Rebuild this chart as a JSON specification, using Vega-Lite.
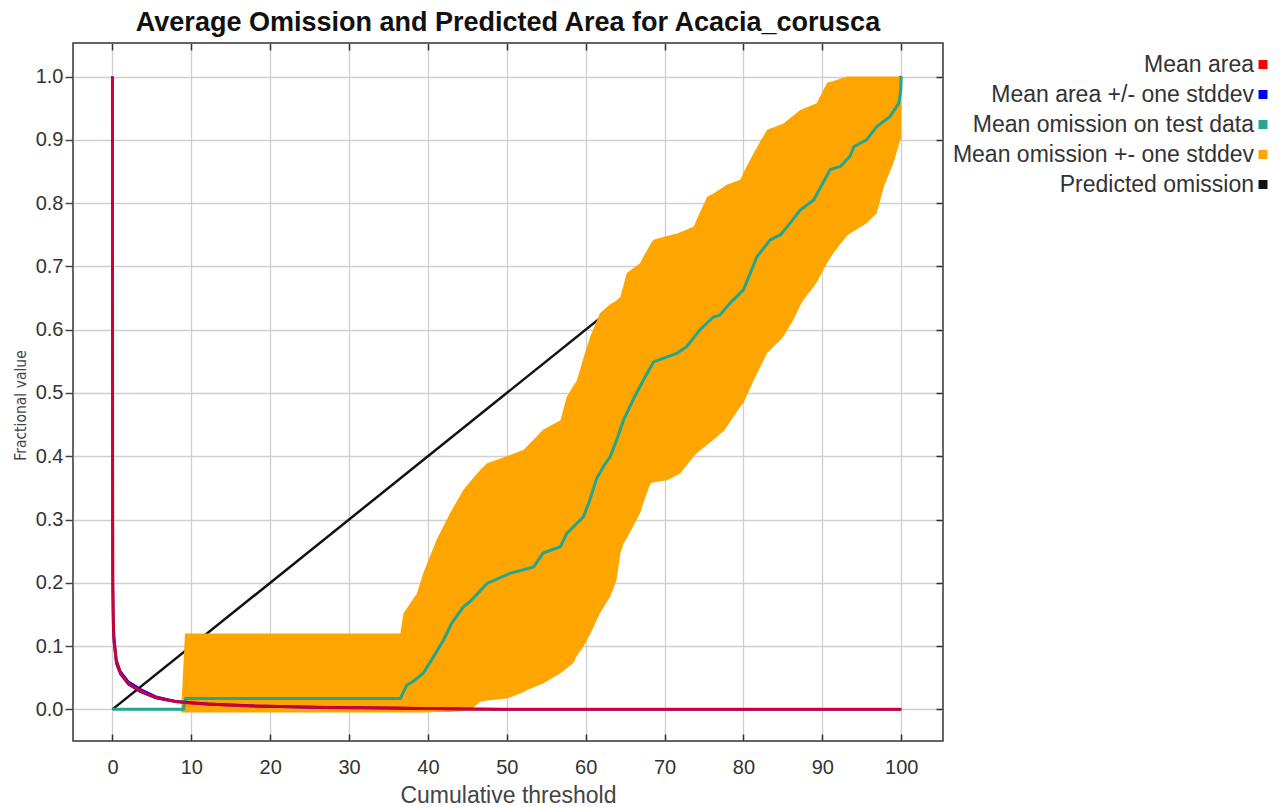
{
  "$schema": "https://vega.github.io/schema/vega-lite/v6.json",
  "width": 870,
  "height": 698,
  "autosize": {"type": "none"},
  "padding": {"left": 73, "top": 43, "right": 343, "bottom": 65},
  "background": "white",
  "config": {
    "font": "Liberation Sans",
    "view": {"stroke": "#333", "strokeWidth": 1.5}
  },
  "title": {
    "text": "Average Omission and Predicted Area for Acacia_corusca",
    "fontSize": 27,
    "fontWeight": "bold",
    "font": "Liberation Sans",
    "color": "#111",
    "anchor": "middle",
    "baseline": "alphabetic",
    "offset": 10,
    "dy": 26
  },
  "datasets": {
    "pred": [{"x": 0, "y": 0}, {"x": 100, "y": 1}],
    "band": [
      {"x": 8.7, "lo": -0.005, "hi": -0.005},
      {"x": 9.2, "lo": -0.005, "hi": 0.12},
      {"x": 20, "lo": -0.005, "hi": 0.12},
      {"x": 36.5, "lo": -0.005, "hi": 0.12},
      {"x": 36.9, "lo": -0.005, "hi": 0.152},
      {"x": 38.6, "lo": -0.005, "hi": 0.183},
      {"x": 39.4, "lo": -0.005, "hi": 0.215},
      {"x": 41.1, "lo": -0.004, "hi": 0.268},
      {"x": 42.8, "lo": -0.004, "hi": 0.31},
      {"x": 44.5, "lo": -0.003, "hi": 0.347},
      {"x": 45.5, "lo": 0.0, "hi": 0.362},
      {"x": 46.6, "lo": 0.012, "hi": 0.378},
      {"x": 47.5, "lo": 0.014, "hi": 0.389},
      {"x": 50.0, "lo": 0.017, "hi": 0.40},
      {"x": 52.1, "lo": 0.027, "hi": 0.41},
      {"x": 52.5, "lo": 0.03, "hi": 0.415},
      {"x": 54.6, "lo": 0.041, "hi": 0.442},
      {"x": 56.8, "lo": 0.057, "hi": 0.457},
      {"x": 57.6, "lo": 0.065, "hi": 0.494},
      {"x": 58.4, "lo": 0.073, "hi": 0.51},
      {"x": 58.9, "lo": 0.085, "hi": 0.52},
      {"x": 59.7, "lo": 0.099, "hi": 0.555},
      {"x": 60.6, "lo": 0.12, "hi": 0.59},
      {"x": 61.8, "lo": 0.152, "hi": 0.626},
      {"x": 63.1, "lo": 0.178, "hi": 0.64},
      {"x": 63.9, "lo": 0.204, "hi": 0.646},
      {"x": 64.4, "lo": 0.247, "hi": 0.652},
      {"x": 64.8, "lo": 0.262, "hi": 0.67},
      {"x": 65.2, "lo": 0.27, "hi": 0.689},
      {"x": 66.0, "lo": 0.289, "hi": 0.697},
      {"x": 66.9, "lo": 0.31, "hi": 0.705},
      {"x": 67.3, "lo": 0.326, "hi": 0.715},
      {"x": 68.2, "lo": 0.357, "hi": 0.735},
      {"x": 68.6, "lo": 0.359, "hi": 0.742},
      {"x": 70.3, "lo": 0.362, "hi": 0.748},
      {"x": 71.6, "lo": 0.37, "hi": 0.752},
      {"x": 72.0, "lo": 0.373, "hi": 0.754},
      {"x": 73.7, "lo": 0.4, "hi": 0.763},
      {"x": 74.1, "lo": 0.405, "hi": 0.775},
      {"x": 75.4, "lo": 0.418, "hi": 0.81},
      {"x": 76.2, "lo": 0.426, "hi": 0.815},
      {"x": 77.5, "lo": 0.44, "hi": 0.826},
      {"x": 77.9, "lo": 0.447, "hi": 0.829},
      {"x": 79.6, "lo": 0.478, "hi": 0.837},
      {"x": 80.0, "lo": 0.484, "hi": 0.848},
      {"x": 81.3, "lo": 0.52, "hi": 0.879},
      {"x": 83.0, "lo": 0.563, "hi": 0.916},
      {"x": 84.7, "lo": 0.584, "hi": 0.924},
      {"x": 85.1, "lo": 0.59, "hi": 0.926},
      {"x": 86.3, "lo": 0.615, "hi": 0.938},
      {"x": 87.2, "lo": 0.638, "hi": 0.947},
      {"x": 87.6, "lo": 0.647, "hi": 0.949},
      {"x": 88.9, "lo": 0.668, "hi": 0.956},
      {"x": 89.3, "lo": 0.675, "hi": 0.958},
      {"x": 90.6, "lo": 0.705, "hi": 0.99},
      {"x": 91.4, "lo": 0.721, "hi": 0.993},
      {"x": 93.1, "lo": 0.748, "hi": 1.0},
      {"x": 93.5, "lo": 0.752, "hi": 1.0},
      {"x": 95.6, "lo": 0.768, "hi": 1.0},
      {"x": 96.9, "lo": 0.784, "hi": 1.0},
      {"x": 97.8, "lo": 0.826, "hi": 1.0},
      {"x": 99.0, "lo": 0.863, "hi": 1.0},
      {"x": 99.9, "lo": 0.9, "hi": 1.0},
      {"x": 100, "lo": 0.9, "hi": 1.0}
    ],
    "omis": [
      {"x": 0, "y": 0}, {"x": 9.0, "y": 0}, {"x": 9.3, "y": 0.017}, {"x": 36.5, "y": 0.017},
      {"x": 37.3, "y": 0.038}, {"x": 38.1, "y": 0.044}, {"x": 39.4, "y": 0.057}, {"x": 40.7, "y": 0.083},
      {"x": 42.0, "y": 0.11}, {"x": 43.0, "y": 0.136}, {"x": 44.5, "y": 0.162}, {"x": 45.3, "y": 0.17},
      {"x": 47.5, "y": 0.199}, {"x": 50.4, "y": 0.215}, {"x": 53.4, "y": 0.225}, {"x": 54.6, "y": 0.247},
      {"x": 56.8, "y": 0.257}, {"x": 57.6, "y": 0.278}, {"x": 59.7, "y": 0.304}, {"x": 60.5, "y": 0.33},
      {"x": 61.4, "y": 0.365}, {"x": 62.3, "y": 0.385}, {"x": 63.1, "y": 0.399}, {"x": 63.9, "y": 0.425},
      {"x": 64.8, "y": 0.457}, {"x": 66.0, "y": 0.489}, {"x": 67.3, "y": 0.52}, {"x": 68.6, "y": 0.549},
      {"x": 71.6, "y": 0.563}, {"x": 72.8, "y": 0.573}, {"x": 74.5, "y": 0.6}, {"x": 76.2, "y": 0.62},
      {"x": 77.0, "y": 0.623}, {"x": 78.3, "y": 0.642}, {"x": 80.0, "y": 0.663}, {"x": 81.7, "y": 0.715},
      {"x": 83.4, "y": 0.742}, {"x": 84.7, "y": 0.75}, {"x": 85.9, "y": 0.768}, {"x": 87.2, "y": 0.789},
      {"x": 88.9, "y": 0.805}, {"x": 91.0, "y": 0.853}, {"x": 92.3, "y": 0.858}, {"x": 93.5, "y": 0.874},
      {"x": 94.0, "y": 0.889}, {"x": 95.6, "y": 0.9}, {"x": 96.9, "y": 0.921}, {"x": 98.6, "y": 0.937},
      {"x": 99.7, "y": 0.958}, {"x": 99.95, "y": 0.979}, {"x": 100, "y": 1.0}
    ],
    "areaHi": [
      {"x": 0, "y": 1.0}, {"x": 0.02, "y": 0.42}, {"x": 0.05, "y": 0.21}, {"x": 0.1, "y": 0.15},
      {"x": 0.2, "y": 0.115}, {"x": 0.5, "y": 0.078}, {"x": 1, "y": 0.06}, {"x": 2, "y": 0.044},
      {"x": 3.5, "y": 0.032}, {"x": 5.5, "y": 0.02}, {"x": 8, "y": 0.013}, {"x": 12, "y": 0.009},
      {"x": 18, "y": 0.0056}, {"x": 27, "y": 0.0033}, {"x": 36, "y": 0.0022}, {"x": 43, "y": 0.001},
      {"x": 50, "y": 0.0001}, {"x": 100, "y": 0}
    ],
    "areaLo": [
      {"x": 0, "y": 1.0}, {"x": 0.02, "y": 0.38}, {"x": 0.05, "y": 0.19}, {"x": 0.1, "y": 0.13},
      {"x": 0.2, "y": 0.105}, {"x": 0.5, "y": 0.072}, {"x": 1, "y": 0.056}, {"x": 2, "y": 0.04},
      {"x": 3.5, "y": 0.028}, {"x": 5.5, "y": 0.018}, {"x": 8, "y": 0.012}, {"x": 12, "y": 0.008},
      {"x": 18, "y": 0.0048}, {"x": 27, "y": 0.0027}, {"x": 36, "y": 0.0018}, {"x": 43, "y": 0.0006},
      {"x": 50, "y": 0}, {"x": 100, "y": 0}
    ],
    "area": [
      {"x": 0, "y": 1.0}, {"x": 0.02, "y": 0.4}, {"x": 0.05, "y": 0.2}, {"x": 0.1, "y": 0.14},
      {"x": 0.2, "y": 0.11}, {"x": 0.5, "y": 0.075}, {"x": 1, "y": 0.058}, {"x": 1.5, "y": 0.049},
      {"x": 2, "y": 0.042}, {"x": 2.6, "y": 0.036}, {"x": 3.5, "y": 0.03}, {"x": 4.3, "y": 0.025},
      {"x": 5.5, "y": 0.019}, {"x": 6.9, "y": 0.015}, {"x": 8, "y": 0.0125}, {"x": 9.4, "y": 0.0105},
      {"x": 12, "y": 0.0085}, {"x": 14.5, "y": 0.0068}, {"x": 18, "y": 0.0052}, {"x": 22.9, "y": 0.004},
      {"x": 27, "y": 0.003}, {"x": 31.4, "y": 0.0025}, {"x": 36, "y": 0.002}, {"x": 39.8, "y": 0.0015},
      {"x": 43, "y": 0.0008}, {"x": 46, "y": 0.0003}, {"x": 50, "y": 0}, {"x": 100, "y": 0}
    ]
  },
  "resolve": {"axis": {"x": "independent", "y": "independent"}},
  "layer": [
    {
      "data": {"name": "pred"},
      "mark": {"type": "line", "strokeWidth": 2.5},
      "encoding": {
        "x": {
          "field": "x", "type": "quantitative",
          "scale": {"domain": [-5, 105.3], "nice": false, "zero": false},
          "axis": {
            "orient": "bottom",
            "values": [0, 10, 20, 30, 40, 50, 60, 70, 80, 90, 100],
            "grid": true, "gridColor": "#cfcfcf", "gridWidth": 1.3,
            "domain": false,
            "tickSize": -7, "tickColor": "#333", "tickWidth": 1.5,
            "labelFontSize": 20, "labelColor": "#333", "labelPadding": 23,
            "title": "Cumulative threshold", "titleFontSize": 23, "titleFontWeight": "normal",
            "titleColor": "#444", "titleY": 61, "titleBaseline": "alphabetic"
          }
        },
        "y": {
          "field": "y", "type": "quantitative",
          "scale": {"domain": [-0.05, 1.053], "nice": false, "zero": false},
          "axis": {
            "orient": "left",
            "values": [0, 0.1, 0.2, 0.3, 0.4, 0.5, 0.6, 0.7, 0.8, 0.9, 1.0],
            "format": ".1f",
            "grid": true, "gridColor": "#cfcfcf", "gridWidth": 1.3,
            "domain": false,
            "tickSize": 8, "tickColor": "#444", "tickWidth": 1.5,
            "labelFontSize": 20, "labelColor": "#333", "labelPadding": 2,
            "title": "Fractional value", "titleFontSize": 15.5, "titleFontWeight": "normal",
            "titleFont": "Liberation Sans Narrow, DejaVu Sans Condensed, Liberation Sans",
            "titleColor": "#444", "titleX": -53, "titleY": 362, "titleAngle": -90,
            "titleBaseline": "middle", "titleAlign": "center"
          }
        },
        "color": {
          "datum": "Predicted omission", "type": "nominal",
          "scale": {
            "domain": ["Mean area", "Mean area +/- one stddev", "Mean omission on test data", "Mean omission +- one stddev", "Predicted omission"],
            "range": ["#ff0000", "#0000ff", "#22a690", "#ffa500", "#111111"]
          },
          "legend": {
            "orient": "none", "legendX": 1178.5, "legendY": 10,
            "title": null, "padding": 0,
            "labelAlign": "right", "labelOffset": -20.5, "labelFontSize": 23,
            "labelColor": "#333", "labelLimit": 500,
            "symbolType": "square", "symbolSize": 81, "symbolStrokeWidth": 0,
            "rowPadding": 6,
            "encode": {
              "symbols": {
                "update": {
                  "fill": {"scale": "color", "field": "value"},
                  "opacity": {"value": 1},
                  "shape": {"value": "square"},
                  "strokeWidth": {"value": 0}
                }
              }
            }
          }
        }
      }
    },
    {
      "data": {"name": "band"},
      "mark": {"type": "area", "opacity": 1, "interpolate": "linear"},
      "encoding": {
        "x": {
          "field": "x", "type": "quantitative",
          "axis": {
            "orient": "top", "values": [0, 10, 20, 30, 40, 50, 60, 70, 80, 90, 100],
            "labels": false, "title": null, "grid": false, "domain": false,
            "tickSize": -7, "tickColor": "#333", "tickWidth": 1.5
          }
        },
        "y": {
          "field": "hi", "type": "quantitative",
          "axis": {
            "orient": "right", "values": [0, 0.1, 0.2, 0.3, 0.4, 0.5, 0.6, 0.7, 0.8, 0.9, 1.0],
            "labels": false, "title": null, "grid": false, "domain": false,
            "tickSize": -7, "tickColor": "#333", "tickWidth": 1.5
          }
        },
        "y2": {"field": "lo"},
        "color": {"datum": "Mean omission +- one stddev", "type": "nominal"}
      }
    },
    {
      "data": {"name": "omis"},
      "mark": {"type": "line", "strokeWidth": 3},
      "encoding": {
        "x": {"field": "x", "type": "quantitative", "axis": null},
        "y": {"field": "y", "type": "quantitative", "axis": null},
        "color": {"datum": "Mean omission on test data", "type": "nominal"}
      }
    },
    {
      "data": {"name": "areaHi"},
      "mark": {"type": "line", "strokeWidth": 2.5},
      "encoding": {
        "x": {"field": "x", "type": "quantitative", "axis": null},
        "y": {"field": "y", "type": "quantitative", "axis": null},
        "color": {"datum": "Mean area +/- one stddev", "type": "nominal"}
      }
    },
    {
      "data": {"name": "areaLo"},
      "mark": {"type": "line", "strokeWidth": 2.5},
      "encoding": {
        "x": {"field": "x", "type": "quantitative", "axis": null},
        "y": {"field": "y", "type": "quantitative", "axis": null},
        "color": {"datum": "Mean area +/- one stddev", "type": "nominal"}
      }
    },
    {
      "data": {"name": "area"},
      "mark": {"type": "line", "strokeWidth": 3, "opacity": 0.8},
      "encoding": {
        "x": {"field": "x", "type": "quantitative", "axis": null},
        "y": {"field": "y", "type": "quantitative", "axis": null},
        "color": {"datum": "Mean area", "type": "nominal"}
      }
    }
  ]
}
